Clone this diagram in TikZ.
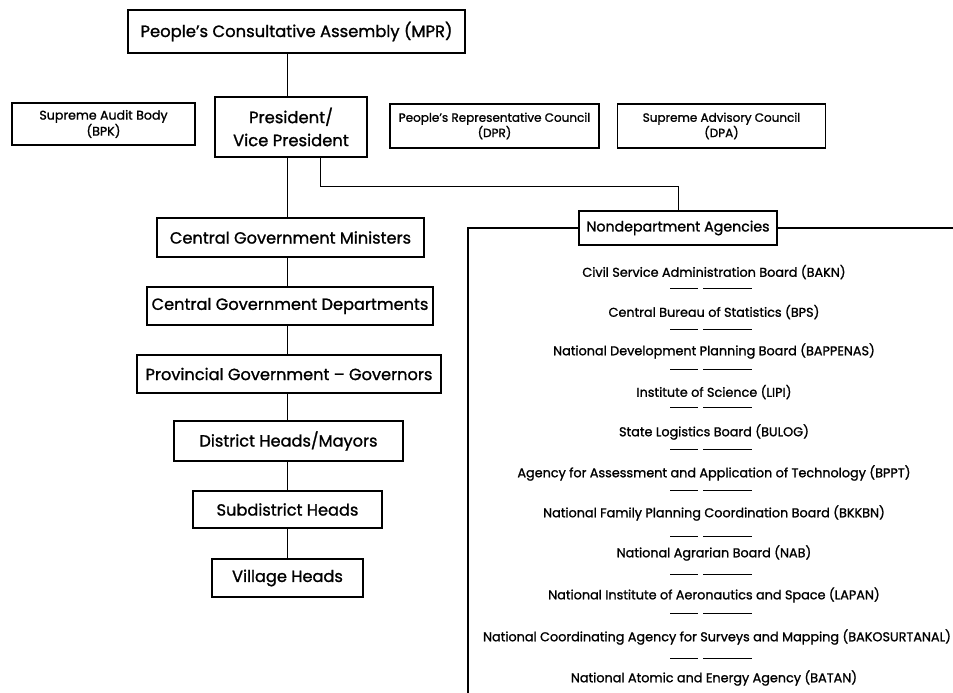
\documentclass[tikz,border=0pt]{standalone}
\usepackage{fontspec}
\setmainfont{Poppins}[FakeBold=1.2]
\begin{document}
\begin{tikzpicture}[x=1pt,y=-1pt,
  box/.style={draw,line width=1.3pt,rectangle,inner sep=0pt,align=center,font=\fontsize{16.2}{21}\selectfont},
  sbox/.style={box,font=\fontsize{12}{13.5}\selectfont},
  conn/.style={line width=0.8pt},
  bracket/.style={line width=1.4pt},
  agency/.style={inner sep=0pt,font=\fontsize{12.8}{14}\selectfont},
  sepline/.style={line width=0.8pt}]
\useasboundingbox[fill=white] (0,0) rectangle (953,693);
% top
\node[box,minimum width=337pt,minimum height=43pt,font=\fontsize{16.4}{19}\selectfont] (mpr) at (296.5,31.5) {People's Consultative Assembly (MPR)};
\node[box,minimum width=152pt,minimum height=60pt,font=\fontsize{16.4}{23}\selectfont] (pres) at (291,127) {President/\\Vice President};
\node[sbox,minimum width=183pt,minimum height=42pt,font=\fontsize{12.6}{13.5}\selectfont] (bpk) at (103.5,124) {Supreme Audit Body\\(BPK)};
\node[sbox,minimum width=209pt,minimum height=44pt] (dpr) at (494.5,126) {People's Representative Council\\(DPR)};
\node[sbox,minimum width=208pt,minimum height=44pt] (dpa) at (721.5,126) {Supreme Advisory Council\\(DPA)};
% chain
\node[box,minimum width=267pt,minimum height=39pt] (cgm) at (290.5,237.5) {Central Government Ministers};
\node[box,minimum width=286pt,minimum height=38pt] (cgd) at (290,306) {Central Government Departments};
\node[box,minimum width=304pt,minimum height=38pt] (prov) at (289,374) {Provincial Government -- Governors};
\node[box,minimum width=229pt,minimum height=40pt] (dist) at (288.5,441) {District Heads/Mayors};
\node[box,minimum width=189pt,minimum height=37pt] (sub) at (287.5,509.5) {Subdistrict Heads};
\node[box,minimum width=151pt,minimum height=38pt] (vil) at (287.5,578) {Village Heads};
% nondepartment
\node[box,minimum width=198pt,minimum height=34pt,font=\fontsize{14.2}{16}\selectfont] (nda) at (678,228) {Nondepartment Agencies};
\coordinate (spine) at (287,0);
\coordinate (bx) at (320,0);
\coordinate (jn) at (678,186);
\coordinate (brL) at (468,228);
\coordinate (brB) at (468,693);
\coordinate (brR) at (953,228);
\draw[conn] (mpr.south -| spine) -- (pres.north -| spine);
\draw[conn] (pres.south -| spine) -- (cgm.north -| spine);
\draw[conn] (cgm.south -| spine) -- (cgd.north -| spine);
\draw[conn] (cgd.south -| spine) -- (prov.north -| spine);
\draw[conn] (prov.south -| spine) -- (dist.north -| spine);
\draw[conn] (dist.south -| spine) -- (sub.north -| spine);
\draw[conn] (sub.south -| spine) -- (vil.north -| spine);
\draw[conn] (pres.south -| bx) |- (jn) -- (nda.north);
\draw[bracket] (nda.west) -- (brL) -- (brB);
\draw[bracket] (nda.east) -- (brR);
% agencies
\node[agency] (a1) at (714,272) {Civil Service Administration Board (BAKN)};
\node[agency] (a2) at (714,312) {Central Bureau of Statistics (BPS)};
\node[agency] (a3) at (714,351) {National Development Planning Board (BAPPENAS)};
\node[agency] (a4) at (714,392) {Institute of Science (LIPI)};
\node[agency] (a5) at (714,432) {State Logistics Board (BULOG)};
\node[agency] (a6) at (714,473) {Agency for Assessment and Application of Technology (BPPT)};
\node[agency] (a7) at (714,513) {National Family Planning Coordination Board (BKKBN)};
\node[agency] (a8) at (714,553) {National Agrarian Board (NAB)};
\node[agency] (a9) at (714,595) {National Institute of Aeronautics and Space (LAPAN)};
\node[agency] (a10) at (717,637) {National Coordinating Agency for Surveys and Mapping (BAKOSURTANAL)};
\node[agency] (a11) at (714,678) {National Atomic and Energy Agency (BATAN)};
\foreach \y in {288,329,369,407,449,490,536,574,613,658}
  \draw[sepline] (670,\y) -- (698,\y) (703,\y) -- (752,\y);
\end{tikzpicture}
\end{document}
